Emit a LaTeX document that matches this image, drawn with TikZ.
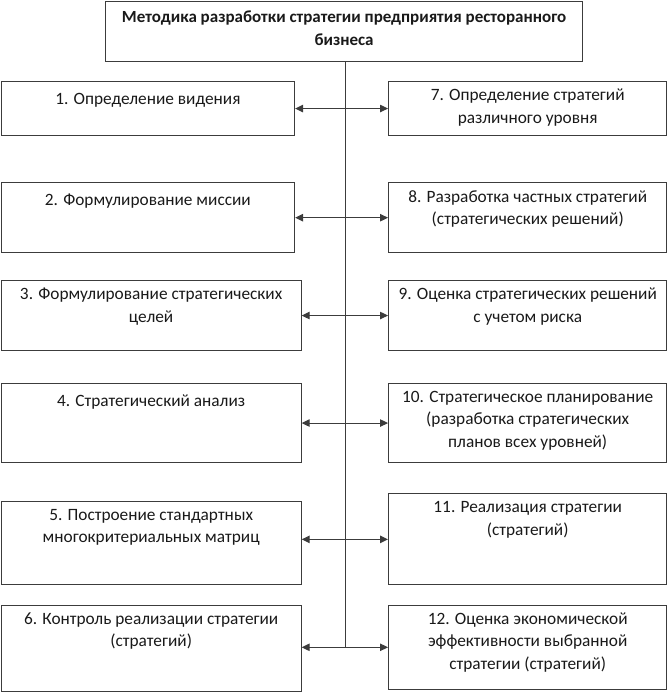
\documentclass[tikz,border=0pt]{standalone}
\usepackage{fontspec}
\setmainfont{Carlito}
\usetikzlibrary{arrows.meta,positioning}
\definecolor{liniya}{HTML}{3C3C3C}
\tikzset{
  blok/.style={draw=liniya, line width=1.1pt, inner sep=0pt, anchor=north west},
  txt/.style={anchor=north, align=center, inner sep=0pt, text=black!90,
    font=\fontsize{17.3}{22.5}\selectfont, execute at begin node=\strut},
  svyaz/.style={draw=liniya, line width=1.1pt,
    {Triangle[length=8pt,width=7.5pt]}-{Triangle[length=8pt,width=7.5pt]}}
}
% box with its text at the top
\newcommand{\punkt}[6]{%
  \node[blok, minimum width=#4pt, minimum height=#5pt] (#1) at (#2,#3) {};
  \node[txt, below=8pt of #1.north] (#1t) {#6};}

\begin{document}
\begin{tikzpicture}[x=1pt,y=1pt]
\useasboundingbox (0,0) rectangle (668,-692);
% heading
\node[blok, minimum width=477pt, minimum height=60.5pt] (top) at (105,-0.6) {};
\node[txt, font=\fontsize{17}{22.5}\selectfont\bfseries, below=10pt of top.north] (topt)
  {Методика разработки стратегии предприятия ресторанного\\бизнеса};
% left column
\punkt{b1}{0.6}{-81}{293.4}{54}{1. Определение видения}
\punkt{b2}{0.6}{-182}{293.4}{70.3}{2. Формулирование миссии}
\punkt{b3}{0.6}{-280}{300}{70}{3. Формулирование стратегических\\целей}
\punkt{b4}{0.6}{-383}{300}{79}{4. Стратегический анализ}
\punkt{b5}{0.6}{-500.7}{300}{83.6}{5. Построение стандартных\\многокритериальных матриц}
\punkt{b6}{0.6}{-604.5}{300}{86.2}{6. Контроль реализации стратегии\\(стратегий)}
% right column
\punkt{b7}{388}{-81}{278.3}{54}{7. Определение стратегий\\различного уровня}
\punkt{b8}{388}{-182}{278.3}{70.3}{8. Разработка частных стратегий\\(стратегических решений)}
\punkt{b9}{388}{-280}{278.3}{70}{9. Оценка стратегических решений\\с учетом риска}
\punkt{b10}{388}{-383}{278.3}{79}{10. Стратегическое планирование\\(разработка стратегических\\планов всех уровней)}
\punkt{b11}{388}{-493.3}{278.3}{91}{11. Реализация стратегии\\(стратегий)}
\punkt{b12}{388}{-604.5}{278.3}{84.5}{12. Оценка экономической\\эффективности выбранной\\стратегии (стратегий)}
% spine and links
\coordinate (niz) at (345.7,-647.3);
\draw[liniya, line width=1.1pt] (top.south -| niz) -- (niz);
\draw[svyaz] (b1.east) -- (b7.west);
\draw[svyaz] (b2.east) -- (b8.west);
\draw[svyaz] (b3.east) -- (b9.west);
\draw[svyaz] (b4.east) -- (b10.west);
\draw[svyaz] (b5.east |- b11.west) -- (b11.west);
\draw[svyaz] (b6.east |- b12.west) -- (b12.west);
\end{tikzpicture}
\end{document}
